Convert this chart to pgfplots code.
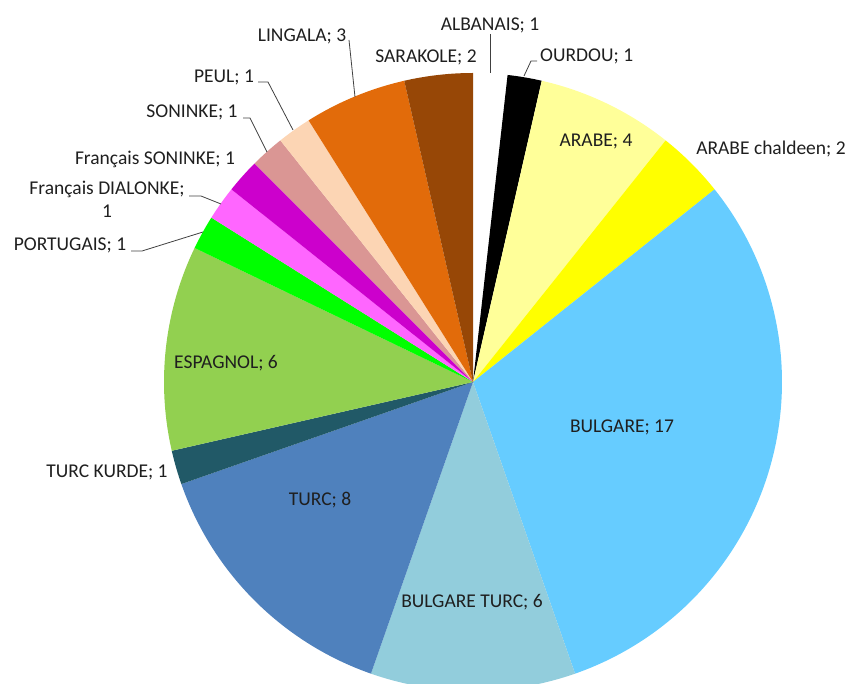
\documentclass[border=0pt]{standalone}
\usepackage{pgfplots}
\usepackage{pgfplotstable}
\pgfplotsset{compat=1.18}
\usepackage{fontspec}
\setmainfont{Carlito}

% value and colour of each slice, clockwise from 12 o'clock
\pgfplotstableread[col sep=comma]{
lang,value,color
ALBANAIS,1,FFFFFF
OURDOU,1,000000
ARABE,4,FFFF99
ARABE chaldeen,2,FFFF00
BULGARE,17,66CCFF
BULGARE TURC,6,92CDDC
TURC,8,4F81BD
TURC KURDE,1,215967
ESPAGNOL,6,92D050
PORTUGAIS,1,00FF00
Francais DIALONKE,1,FF66FF
Francais SONINKE,1,CC00CC
SONINKE,1,DA9694
PEUL,1,FCD5B4
LINGALA,3,E26B0A
SARAKOLE,2,974706
}\piedata

\tikzset{lbl/.style={font=\fontsize{19.5}{23}\selectfont, text=black!88, inner sep=0pt, anchor=base}}

\begin{document}
\begin{tikzpicture}
\begin{axis}[
  scale only axis, width=851pt, height=684pt,
  xmin=0, xmax=851, ymin=0, ymax=684, y dir=reverse,
  hide axis,
]
\pgfplotstablegetrowsof{\piedata}
\pgfmathtruncatemacro\nrows{\pgfplotsretval-1}
\def\total{0}
\pgfplotsforeachungrouped \i in {0,...,\nrows}{%
  \pgfplotstablegetelem{\i}{value}\of\piedata
  \pgfmathsetmacro\total{\total+\pgfplotsretval}%
}
\def\cum{0}
\pgfplotsforeachungrouped \i in {0,...,\nrows}{%
  \pgfplotstablegetelem{\i}{value}\of\piedata \let\v\pgfplotsretval
  \pgfplotstablegetelem{\i}{color}\of\piedata \let\c\pgfplotsretval
  \xglobal\definecolor{slice\i}{HTML}{\c}%
  \pgfmathsetmacro\sa{90-\cum/\total*360}%
  \pgfmathsetmacro\ea{90-(\cum+\v)/\total*360}%
  \edef\temp{\noexpand\fill[fill=slice\i] (axis cs:473,382) -- ++(\sa:309pt) arc[start angle=\sa, end angle=\ea, radius=309pt] -- cycle;}%
  \temp
  \pgfmathsetmacro\cum{\cum+\v}%
}

% leader lines
\begin{scope}[draw=black!75, line width=0.8pt]
\draw (axis cs:490,34) -- (axis cs:490,73);
\draw (axis cs:537,61) -- (axis cs:531,61) -- (axis cs:524,76);
\draw (axis cs:349,40) -- (axis cs:355,97);
\draw (axis cs:258,82) -- (axis cs:268,82) -- (axis cs:293,130);
\draw (axis cs:243,118) -- (axis cs:250,118) -- (axis cs:267,152);
\draw (axis cs:189,196) -- (axis cs:201,196) -- (axis cs:221,204);
\draw (axis cs:131,251) -- (axis cs:142,251) -- (axis cs:203,232);
\end{scope}

% labels
\node[lbl] at (axis cs:490,31) {ALBANAIS; 1};
\node[lbl, anchor=base west] at (axis cs:540,62) {OURDOU; 1};
\node[lbl] at (axis cs:426,63) {SARAKOLE; 2};
\node[lbl] at (axis cs:302,42) {LINGALA; 3};
\node[lbl] at (axis cs:224,83) {PEUL; 1};
\node[lbl] at (axis cs:192,118) {SONINKE; 1};
\node[lbl] at (axis cs:155,165) {Français SONINKE; 1};
\node[lbl] at (axis cs:107,195) {Français DIALONKE;};
\node[lbl] at (axis cs:107,218) {1};
\node[lbl] at (axis cs:70,251) {PORTUGAIS; 1};
\node[lbl] at (axis cs:107,477) {TURC KURDE; 1};
\node[lbl] at (axis cs:226,368) {ESPAGNOL; 6};
\node[lbl] at (axis cs:320,505) {TURC; 8};
\node[lbl] at (axis cs:472,607) {BULGARE TURC; 6};
\node[lbl] at (axis cs:622,432) {BULGARE; 17};
\node[lbl] at (axis cs:771,155) {ARABE chaldeen; 2};
\node[lbl] at (axis cs:596,147) {ARABE; 4};
\end{axis}
\pgfresetboundingbox
\path (current axis.south west) rectangle (current axis.north east);
\end{tikzpicture}
\end{document}
